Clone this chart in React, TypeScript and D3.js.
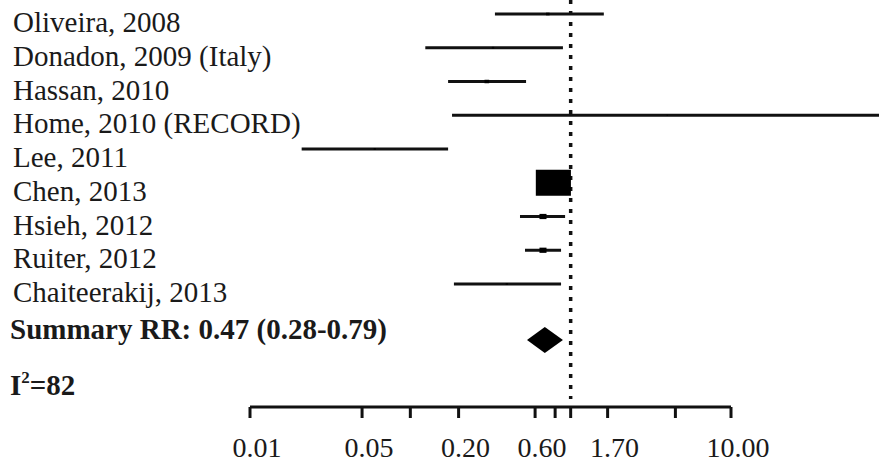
import React from "react";
import * as d3 from "d3";

const studies = [
  "Oliveira, 2008",
  "Donadon, 2009 (Italy)",
  "Hassan, 2010",
  "Home, 2010 (RECORD)",
  "Lee, 2011",
  "Chen, 2013",
  "Hsieh, 2012",
  "Ruiter, 2012",
  "Chaiteerakij, 2013",
];
const estimates = [0.72, 0.328, 0.3, 4.0, 0.06, 0.78, 0.672, 0.672, 0.4];
const lowers = [0.337, 0.124, 0.172, 0.182, 0.021, 0.68, 0.483, 0.519, 0.187];
const uppers = [1.61, 0.895, 0.527, 100, 0.172, 0.9, 0.923, 0.871, 0.871];
const weights = [3, 2, 4, 1, 2, 30, 6, 6, 2];

const summaryEst = 0.69;
const summaryLow = 0.534;
const summaryHigh = 0.895;
const summaryLabel = "Summary RR: 0.47 (0.28-0.79)";
const i2Value = "82";

const tickValues = [0.01, 0.05, 0.1, 0.2, 0.6, 0.8, 1, 1.7, 4.5, 10];
const tickLabels = [
  { v: 0.01, t: "0.01" },
  { v: 0.05, t: "0.05" },
  { v: 0.2, t: "0.20" },
  { v: 0.6, t: "0.60" },
  { v: 1.7, t: "1.70" },
  { v: 10, t: "10.00" },
];

const W = 879;
const H = 465;
const FONT = "'Liberation Serif', 'Times New Roman', serif";
const TXT = "#1a1a1a";

export default function App() {
  const x = d3.scaleLog().domain([0.01, 10]).range([250, 731]);
  const y = d3.scalePoint<string>().domain(studies).range([14, 284]);
  const size = d3.scaleLinear().domain([0, 30]).range([0, 26]);
  const axisY = 407;
  const diamondY = 340;

  const diamond = d3.line()([
    [x(summaryLow), diamondY],
    [x(summaryEst), diamondY - 13],
    [x(summaryHigh), diamondY],
    [x(summaryEst), diamondY + 13],
  ]) + "Z";

  return (
    <svg
      width={W}
      height={H}
      style={{ position: "absolute", left: 0, top: 0, background: "#fff" }}
      fontFamily={FONT}
    >
      <rect width={W} height={H} fill="#fff" />
      {/* reference line */}
      <line
        x1={x(1)}
        x2={x(1)}
        y1={0}
        y2={399}
        stroke="#111"
        strokeWidth={3.5}
        strokeDasharray="4 7"
      />
      {studies.map((s, i) => {
        const yy = y(s) as number;
        const h = size(weights[i]);
        const w = h * 1.35;
        return (
          <g key={s}>
            <text x={13} y={yy + 18} fontSize={29} fill={TXT}>
              {s}
            </text>
            <line
              x1={x(lowers[i])}
              x2={x(uppers[i])}
              y1={yy}
              y2={yy}
              stroke="#111"
              strokeWidth={3}
            />
            <rect
              x={x(estimates[i]) - w / 2}
              y={yy - h / 2}
              width={w}
              height={h}
              fill="#000"
            />
          </g>
        );
      })}
      <path d={diamond} fill="#000" />
      <text x={10} y={339} fontSize={29} fontWeight="bold" fill={TXT}>
        {summaryLabel}
      </text>
      <text x={10} y={395} fontSize={29} fontWeight="bold" fill={TXT}>
        I
        <tspan fontSize={17} dy={-12}>
          2
        </tspan>
        <tspan dy={12}>={i2Value}</tspan>
      </text>
      {/* axis */}
      <line
        x1={x(0.01)}
        x2={x(10)}
        y1={axisY}
        y2={axisY}
        stroke="#111"
        strokeWidth={3}
      />
      {tickValues.map((v) => (
        <line
          key={v}
          x1={x(v)}
          x2={x(v)}
          y1={axisY}
          y2={axisY + 11}
          stroke="#111"
          strokeWidth={3}
        />
      ))}
      {tickLabels.map((d) => (
        <text
          key={d.t}
          x={x(d.v) + 7}
          y={457}
          fontSize={28}
          textAnchor="middle"
          fill={TXT}
        >
          {d.t}
        </text>
      ))}
    </svg>
  );
}
